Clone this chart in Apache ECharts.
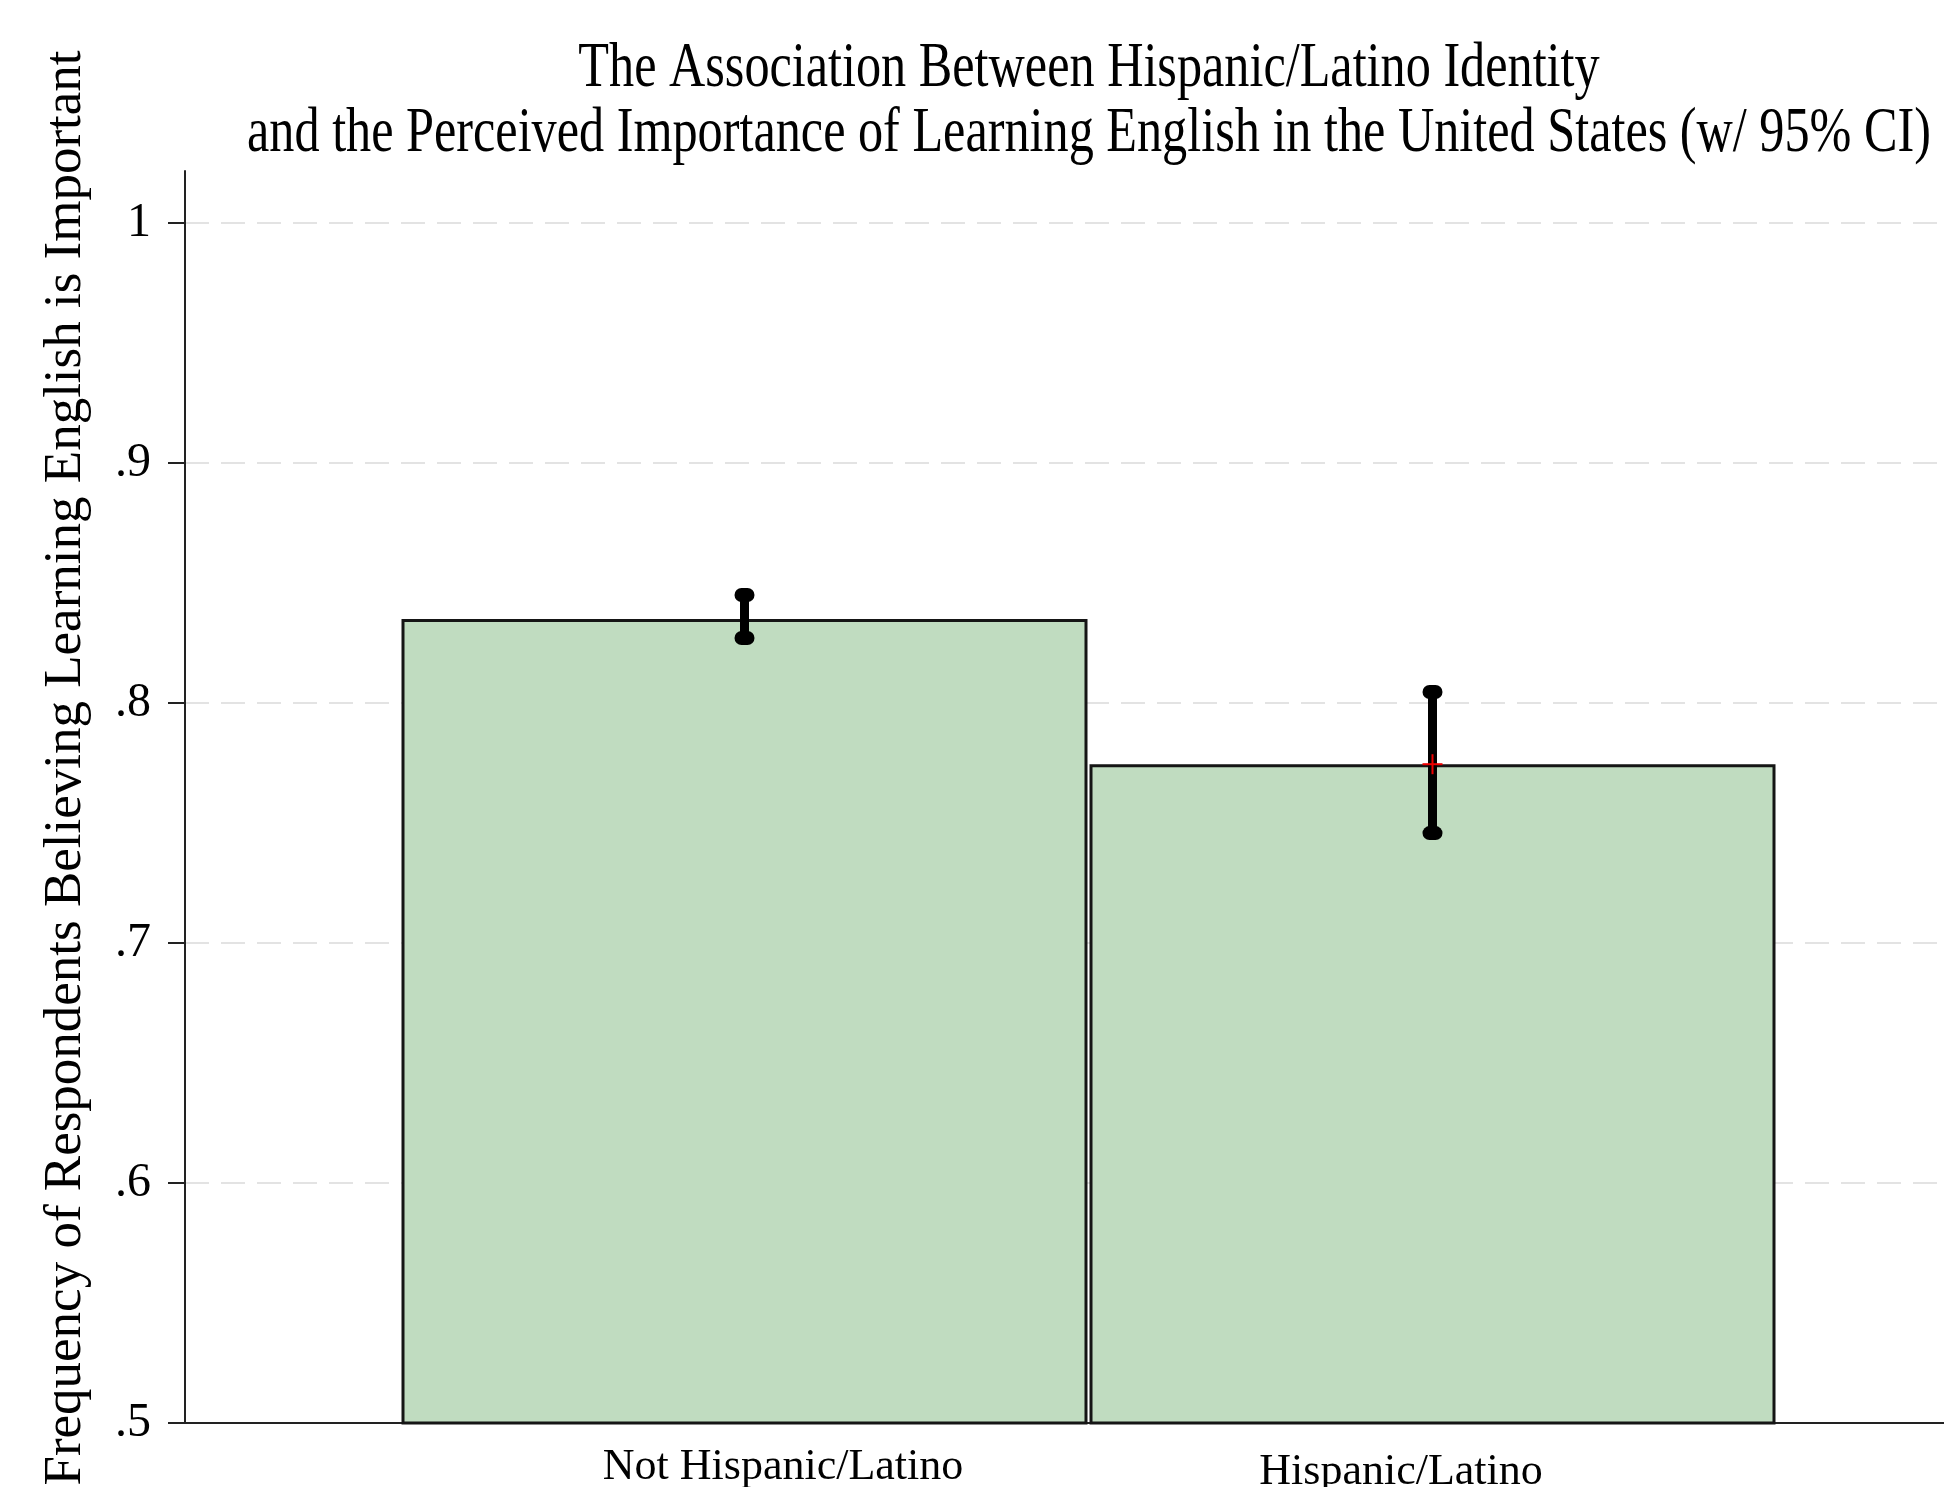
<!DOCTYPE html>
<html>
<head>
<meta charset="utf-8">
<script src="https://cdn.jsdelivr.net/npm/echarts@6/dist/echarts.min.js"></script>
<style>
  html, body { margin: 0; padding: 0; background: #fff; }
  #chart { width: 1944px; height: 1487px; }
</style>
</head>
<body>
<div id="chart"></div>
<script>
const categories = ['Not Hispanic/Latino', 'Hispanic/Latino']
const means = [0.835, 0.7745]
const ciLow = [0.8271, 0.7458]
const ciHigh = [0.845, 0.8046]
const showMean = [false, true]
const yTicks = [0.5, 0.6, 0.7, 0.8, 0.9, 1]
const yTickLabels = ['.5', '.6', '.7', '.8', '.9', '1']

const titleLines = [
  'The Association Between Hispanic/Latino Identity',
  'and the Perceived Importance of Learning English in the United States (w/ 95% CI)'
]
const yTitle = 'Frequency of Respondents Believing Learning English is Important'

const font = 'Liberation Serif'
const chart = echarts.init(document.getElementById('chart'))

const errorData = categories.map((c, i) => [i, ciLow[i], ciHigh[i], means[i], showMean[i] ? 1 : 0])

const option = {
  animation: false,
  backgroundColor: '#fff',
  graphic: titleLines.map((t, i) => ({
    type: 'text',
    x: 1089,
    y: 37 + i * 65,
    scaleX: 0.785,
    style: {
      text: t,
      font: '64px "Liberation Serif"',
      fill: '#000',
      align: 'center',
      verticalAlign: 'top'
    }
  })),
  grid: [
    { left: 185, right: 0, top: 171, bottom: 64, outerBoundsMode: 'none' },
    { left: 185, right: 0, top: 223, bottom: 64, outerBoundsMode: 'none' },
    { left: 400.5, width: 1376, top: 223, bottom: 64, outerBoundsMode: 'none' }
  ],
  xAxis: [
    {
      gridIndex: 0, type: 'value', min: 0, max: 1,
      axisLine: { show: true, onZero: false, lineStyle: { color: '#222', width: 2 } },
      axisTick: { show: false }, axisLabel: { show: false }, splitLine: { show: false }
    },
    {
      gridIndex: 1, type: 'value', min: 0, max: 1, show: false
    },
    {
      gridIndex: 2, type: 'category', data: categories,
      axisLine: { show: false }, axisTick: { show: false },
      axisLabel: {
        margin: 22,
        formatter: (v, i) => (i === 0 ? '{a|' + v + '}' : '{b|' + v + '}'),
        rich: {
          a: { fontFamily: font, fontSize: 44, color: '#000', padding: [0, 0, 0, 77] },
          b: { fontFamily: font, fontSize: 44, color: '#000', padding: [5, 63, 0, 0] }
        }
      }
    }
  ],
  yAxis: [
    {
      gridIndex: 0, type: 'value', min: 0.5, max: 1.0217,
      axisLine: { show: true, lineStyle: { color: '#222', width: 2 } },
      axisTick: { show: false }, axisLabel: { show: false }, splitLine: { show: false }
    },
    {
      gridIndex: 1, type: 'value', min: 0.5, max: 1, interval: 0.1,
      axisLine: { show: false },
      axisTick: { show: true, length: 17, lineStyle: { color: '#222', width: 2 } },
      axisLabel: {
        margin: 34,
        fontFamily: font, fontSize: 48, color: '#000',
        formatter: v => {
          const k = yTicks.findIndex(t => Math.abs(t - v) < 1e-6)
          return k >= 0 ? yTickLabels[k] : ''
        }
      },
      splitLine: { show: true, lineStyle: { color: '#e3e3e3', width: 2, type: [24, 12] } },
      name: yTitle,
      nameLocation: 'middle',
      nameGap: 92,
      nameTextStyle: { fontFamily: font, fontSize: 53, color: '#000', padding: [0, 0, 0, 110] }
    },
    {
      gridIndex: 2, type: 'value', min: 0.5, max: 1, show: false
    }
  ],
  series: [
    {
      type: 'bar',
      xAxisIndex: 2, yAxisIndex: 2,
      data: means,
      barWidth: 686,
      itemStyle: { color: '#c0dcc0', borderColor: '#151515', borderWidth: 3 },
      z: 2
    },
    {
      type: 'custom',
      xAxisIndex: 2, yAxisIndex: 2,
      data: errorData,
      z: 3,
      renderItem: (params, api) => {
        const lo = api.coord([api.value(0), api.value(1)])
        const hi = api.coord([api.value(0), api.value(2)])
        const m = api.coord([api.value(0), api.value(3)])
        const x = lo[0]
        const children = [
          { type: 'line', shape: { x1: x, y1: lo[1], x2: x, y2: hi[1] }, style: { stroke: '#000', lineWidth: 9 } },
          { type: 'rect', shape: { x: x - 10, y: lo[1] - 7, width: 20, height: 14, r: 7 }, style: { fill: '#000' } },
          { type: 'rect', shape: { x: x - 10, y: hi[1] - 7, width: 20, height: 14, r: 7 }, style: { fill: '#000' } }
        ]
        if (api.value(4)) {
          children.push(
            { type: 'line', shape: { x1: x - 10, y1: m[1], x2: x + 10, y2: m[1] }, style: { stroke: '#ee0000', lineWidth: 2 } },
            { type: 'line', shape: { x1: x, y1: m[1] - 10, x2: x, y2: m[1] + 10 }, style: { stroke: '#ee0000', lineWidth: 2 } }
          )
        }
        return { type: 'group', children }
      }
    }
  ]
}

chart.setOption(option)
</script>
</body>
</html>
